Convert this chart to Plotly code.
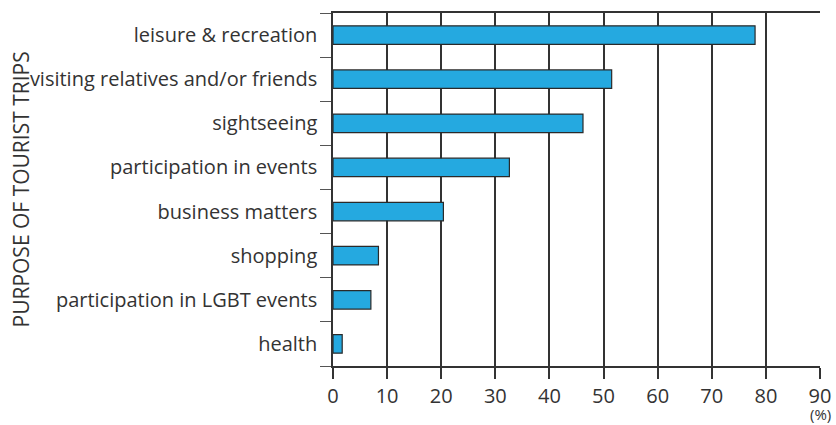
import plotly.graph_objects as go

categories = [
    "leisure & recreation",
    "visiting relatives and/or friends",
    "sightseeing",
    "participation in events",
    "business matters",
    "shopping",
    "participation in LGBT events",
    "health",
]
values = [78.0, 51.5, 46.2, 32.6, 20.4, 8.4, 7.0, 1.7]
x_ticks = [0, 10, 20, 30, 40, 50, 60, 70, 80, 90]

FONT = "Open Sans"
TXT = "#333333"

fig = go.Figure()
fig.add_trace(go.Bar(
    y=categories,
    x=values,
    orientation="h",
    width=0.42,
    marker=dict(color="#25a9e0", line=dict(color="#2a2a2a", width=1.2)),
))

fig.update_layout(
    width=836, height=425, autosize=False,
    margin=dict(l=333, r=16, t=13, b=59, autoexpand=False),
    paper_bgcolor="white", plot_bgcolor="white",
    showlegend=False,
    font=dict(family=FONT, size=20, color=TXT),
    annotations=[
        dict(text="(%)", xref="paper", yref="paper", x=1.0, y=0, yshift=-36,
             xanchor="center", yanchor="top", showarrow=False,
             font=dict(family=FONT, size=15, color=TXT)),
        dict(text="PURPOSE OF TOURIST TRIPS", xref="paper", yref="paper",
             x=0, y=0.5, xshift=-(333 - 20), textangle=-90,
             xanchor="center", yanchor="middle", showarrow=False,
             font=dict(family=FONT, size=21, color=TXT)),
    ],
)
fig.update_xaxes(
    range=[0, 90], tickvals=x_ticks, ticktext=[str(t) for t in x_ticks],
    showgrid=True, gridcolor="#333333", gridwidth=1.5,
    showline=True, linecolor="#333333", linewidth=1.5, mirror=True,
    ticks="outside", ticklen=11, tickcolor="#333333", tickwidth=1.5,
    zeroline=False, tickfont=dict(size=20, color=TXT),
    layer="below traces", automargin=False,
)
fig.update_yaxes(
    type="category", categoryorder="array", categoryarray=categories[::-1],
    tickson="boundaries", ticks="outside", ticklen=11, tickcolor="#555555",
    tickwidth=1.2, showline=True, linecolor="#333333", linewidth=1.5,
    showgrid=False, ticklabelstandoff=10, automargin=False,
    tickfont=dict(size=20, color=TXT),
)

fig.write_html(
    "out.html",
    config={"displayModeBar": False, "responsive": False},
    post_script="document.documentElement.style.overflow='hidden';"
                "document.body.style.margin='0';document.body.style.overflow='hidden';",
)
